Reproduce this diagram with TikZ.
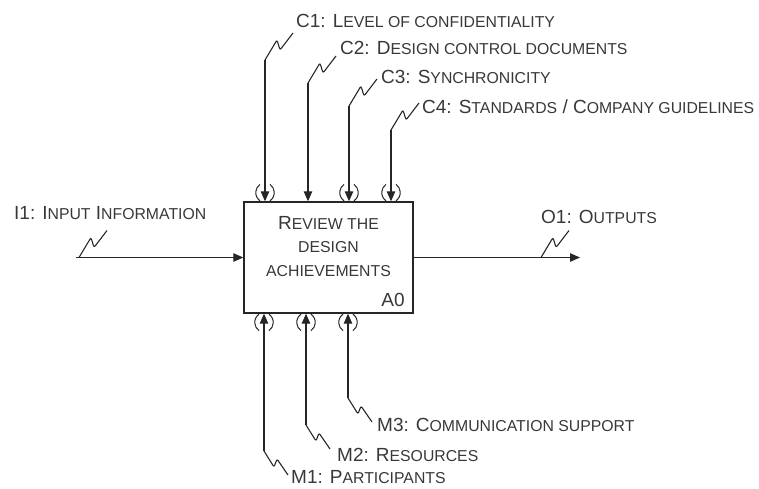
\documentclass[tikz,border=0pt]{standalone}
\usepackage{fontspec}
\setmainfont{Liberation Sans}
\usetikzlibrary{arrows.meta,calc}
\definecolor{ink}{rgb}{0.15,0.15,0.15}
\definecolor{txt}{rgb}{0.22,0.22,0.22}
% small caps by hand
\newcommand{\lc}[1]{{\fontsize{15.8}{18}\selectfont\MakeUppercase{#1}}}

\begin{document}
\begin{tikzpicture}[x=1pt,y=-1pt,
    line/.style={ink,line width=1.1pt},
    arr/.style={line,-{Triangle[length=10pt,width=8.5pt]}},
    paren/.style={ink,line width=1pt},
    lbl/.style={txt,font=\fontsize{19}{22}\selectfont,inner sep=1pt,anchor=west}]
        \useasboundingbox (0,0) rectangle (759,488);
        % box
        \node[draw=ink,line width=1.4pt,minimum width=169pt,minimum height=111pt,inner sep=0pt] (a0) at (328.5,257.5) {};
        \node[txt,align=center,font=\fontsize{19}{23.5}\selectfont] (title) at (328.5,246.5) {R\lc{eview the}\\\lc{design}\\\lc{achievements}};
        \node[txt,font=\fontsize{19}{22}\selectfont,inner sep=1pt] (a0num) at (393,300) {A0};

        % input
        \coordinate (i1s) at (76,257.5);
        \coordinate (i1q) at (79,257.5);
        \draw[arr] (i1s) -- (a0.west);
        \draw[line,rounded corners=2pt] (i1q) -- ++(12,-20) -- ++(3,10) -- ++(13,-17);
        \node[lbl] (i1) at (13,213) {I1: I\lc{nput} I\lc{nformation}};

        % output
        \coordinate (o1e) at (580,257.5);
        \coordinate (o1q) at (541,257.5);
        \draw[arr] (a0.east) -- (o1e);
        \draw[line,rounded corners=2pt] (o1q) -- ++(12,-20) -- ++(3,10) -- ++(13,-17);
        \node[lbl] (o1) at (540,217) {O1: O\lc{utputs}};

        % controls
        \coordinate (c1b) at (265,60);
        \coordinate (c2b) at (308,83);
        \coordinate (c3b) at (349,106);
        \coordinate (c4b) at (391,130);
        \draw[arr] (c1b) -- (c1b |- a0.north);
        \draw[arr] (c2b) -- (c2b |- a0.north);
        \draw[arr] (c3b) -- (c3b |- a0.north);
        \draw[arr] (c4b) -- (c4b |- a0.north);
        \draw[line,rounded corners=2pt] (c1b) -- ++(12,-20) -- ++(3,10) -- ++(13,-17);
        \draw[line,rounded corners=2pt] (c2b) -- ++(12,-20) -- ++(3,10) -- ++(13,-17);
        \draw[line,rounded corners=2pt] (c3b) -- ++(12,-20) -- ++(3,10) -- ++(13,-17);
        \draw[line,rounded corners=2pt] (c4b) -- ++(12,-20) -- ++(3,10) -- ++(13,-17);
        \node[lbl] (c1) at (295,21) {C1: L\lc{evel of confidentiality}};
        \node[lbl] (c2) at (339,48) {C2: D\lc{esign control documents}};
        \node[lbl] (c3) at (380,77) {C3: S\lc{ynchronicity}};
        \node[lbl] (c4) at (421,107) {C4: S\lc{tandards} / C\lc{ompany guidelines}};

        % mechanisms
        \coordinate (m1b) at (264,451);
        \coordinate (m2b) at (306,425);
        \coordinate (m3b) at (348,398);
        \draw[arr] (m1b) -- (m1b |- a0.south);
        \draw[arr] (m2b) -- (m2b |- a0.south);
        \draw[arr] (m3b) -- (m3b |- a0.south);
        \draw[line,rounded corners=2pt] (m1b) -- ++(10,16) -- ++(3,-8) -- ++(11,16);
        \draw[line,rounded corners=2pt] (m2b) -- ++(10,16) -- ++(3,-8) -- ++(11,16);
        \draw[line,rounded corners=2pt] (m3b) -- ++(10,16) -- ++(3,-8) -- ++(11,16);
        \node[lbl] (m1) at (290,477) {M1: P\lc{articipants}};
        \node[lbl] (m2) at (336,455) {M2: R\lc{esources}};
        \node[lbl] (m3) at (376,425) {M3: C\lc{ommunication support}};

        % tunnels
        \foreach \p in {c1b,c3b,c4b}
            \draw[paren] ($(\p |- a0.north)+(-5,-0.5)$) arc[start angle=125,end angle=235,radius=10]
                         ($(\p |- a0.north)+(5,-0.5)$) arc[start angle=55,end angle=-55,radius=10];
        \foreach \p in {m1b,m2b,m3b}
            \draw[paren] ($(\p |- a0.south)+(-5,0.5)$) arc[start angle=235,end angle=125,radius=10]
                         ($(\p |- a0.south)+(5,0.5)$) arc[start angle=-55,end angle=55,radius=10];
\end{tikzpicture}
\end{document}
